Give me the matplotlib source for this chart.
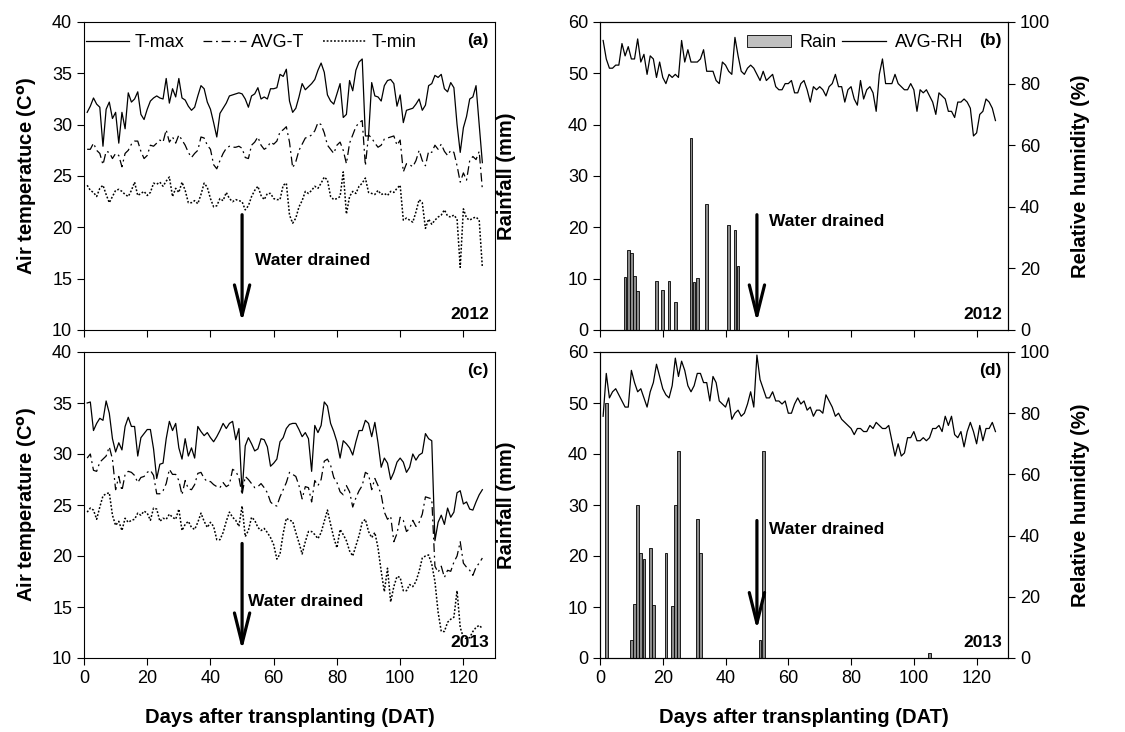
import numpy as np
import matplotlib
matplotlib.use('Agg')
import matplotlib.pyplot as plt
from matplotlib.patches import Patch
from matplotlib.lines import Line2D

plt.rcParams['font.family'] = ['Liberation Sans', 'DejaVu Sans']

# ---- data (2012) ----
tmax_2012 = [31.2, 31.8, 32.6, 32.0, 31.7, 27.9, 31.5, 32.2, 30.6, 31.2,
             28.2, 31.2, 29.6, 33.1, 32.2, 32.5, 33.2, 31.0, 30.5, 31.5,
             32.3, 32.6, 32.8, 32.6, 32.5, 34.5, 32.1, 33.5, 32.7, 34.5,
             32.6, 32.4, 31.8, 31.4, 31.7, 32.8, 33.8, 33.5, 32.2, 31.5,
             30.2, 28.8, 31.1, 31.6, 32.1, 32.8, 32.9, 33.0, 33.1, 33.0,
             32.5, 31.7, 32.8, 33.0, 33.6, 32.5, 32.7, 32.5, 33.5, 33.5,
             33.6, 34.9, 34.7, 35.4, 32.3, 31.2, 31.6, 32.7, 34.0, 33.4,
             33.7, 34.0, 34.4, 35.3, 36.0, 35.1, 32.9, 32.3, 32.0, 33.0,
             34.0, 30.7, 31.0, 34.3, 33.3, 35.3, 36.1, 36.4, 28.9, 28.9,
             34.1, 32.8, 32.7, 32.3, 33.8, 34.3, 34.4, 34.0, 31.8, 32.9,
             30.2, 31.4, 31.5, 31.6, 32.0, 32.5, 31.4, 31.9, 33.8, 34.0,
             34.8, 34.6, 34.9, 33.5, 33.2, 34.1, 33.6, 30.0, 27.3, 29.7,
             30.8, 32.5, 32.7, 33.8, 30.0, 26.3]
tavg_2012 = [27.6, 27.6, 28.2, 27.5, 27.2, 26.1, 27.4, 27.3, 26.7, 27.2,
             27.0, 25.9, 27.2, 27.5, 28.1, 28.4, 28.4, 27.4, 26.7, 27.0,
             28.0, 27.9, 28.2, 28.5, 28.3, 29.5, 28.3, 28.8, 28.2, 29.0,
             28.5, 28.0, 27.3, 26.8, 27.2, 27.5, 28.8, 28.7, 28.0, 27.6,
             26.1, 25.7, 26.5, 27.2, 27.7, 27.9, 27.8, 27.8, 27.9, 27.7,
             26.8, 26.7, 28.0, 28.3, 28.8, 28.0, 27.6, 27.8, 28.3, 28.1,
             28.4, 29.3, 29.5, 29.8, 28.3, 25.8, 26.4, 27.5, 28.1, 28.7,
             28.8, 29.0, 29.4, 30.2, 30.0, 29.2, 28.0, 27.6, 27.2, 28.0,
             28.3, 27.5, 26.2, 28.2, 29.0, 29.8, 30.2, 30.4, 26.0, 29.0,
             28.7, 28.2, 27.8, 28.0, 28.6, 28.7, 28.8, 28.9, 28.0, 28.5,
             25.4, 26.2, 26.1, 25.9, 26.5, 27.5, 26.5, 26.0, 27.4, 27.3,
             28.0, 27.6, 28.1, 27.4, 27.0, 27.5, 27.3, 26.0, 24.4, 25.3,
             24.6, 26.5, 26.9, 26.6, 27.4, 23.7]
tmin_2012 = [24.1, 23.6, 23.4, 23.0, 23.8, 24.1, 23.2, 22.4, 23.0, 23.6,
             23.7, 23.5, 23.2, 23.0, 23.6, 24.4, 23.1, 23.3, 23.5, 23.1,
             23.4, 24.3, 24.2, 24.4, 24.0, 24.5, 24.9, 23.0, 23.8, 23.4,
             24.4, 23.6, 22.4, 22.4, 22.6, 22.3, 23.2, 24.3, 23.9, 22.8,
             22.0, 22.1, 22.8, 22.6, 23.4, 22.8, 22.5, 22.7, 22.6, 22.5,
             21.7, 22.1, 23.0, 23.6, 24.0, 23.1, 22.7, 23.3, 23.3, 22.8,
             22.7, 22.7, 24.1, 24.3, 21.2, 20.4, 20.9, 22.0, 22.6, 23.5,
             23.3, 23.6, 24.0, 23.8, 24.3, 24.9, 24.6, 23.0, 22.7, 22.8,
             23.0, 25.4, 21.3, 23.0, 23.5, 23.3, 24.0, 24.3, 24.8, 23.4,
             23.3, 23.2, 23.6, 23.2, 23.3, 23.1, 23.5, 23.4, 23.8, 24.1,
             20.7, 20.9, 20.7, 20.5, 21.5, 22.7, 22.4, 19.9, 20.8, 20.3,
             20.7, 21.0, 21.2, 21.7, 21.1, 21.0, 21.2, 20.8, 16.1, 21.8,
             20.9, 20.7, 20.9, 21.0, 20.7, 16.1]
rh_2012 = [94, 88, 85, 85, 86, 86, 93, 89, 92, 88,
           88, 94.5, 87, 89.5, 83, 89, 88, 82, 87, 82,
           80, 83, 82, 83, 82, 94, 87, 91, 87, 87,
           87, 88, 91, 84, 84, 84, 81, 80, 87, 86,
           84, 83, 95, 89, 84, 83, 85, 86, 85, 83,
           81, 84, 81, 82, 83, 79, 78, 78, 80, 80,
           81, 77, 77, 80, 81, 78, 74, 79, 78, 79,
           78, 76, 79, 80, 83, 79, 79, 74, 78, 79,
           75, 73, 81, 75, 78, 79, 77, 71, 83, 88,
           80, 80, 80, 83, 80, 79, 78, 78, 80, 78,
           71, 78, 77, 78, 76, 74, 70, 77, 76, 75,
           71, 71, 69, 74, 74, 75, 74, 72, 63, 64,
           70, 71, 75, 74, 72, 68]
rain_days_2012 = [8, 9, 10, 11, 12, 18, 20, 22, 24, 29, 30, 31, 34, 41, 43, 44]
rain_2012 = [10.3, 15.5, 15.0, 10.5, 7.5, 9.5, 7.7, 9.5, 5.5, 37.5, 9.3, 10.2, 24.5, 20.5, 19.5, 12.5]

# ---- data (2013) ----
tmax_2013 = [35.0, 35.1, 32.3, 33.0, 33.5, 33.3, 35.2, 34.0, 31.5, 30.2,
             31.1, 30.4, 32.7, 33.6, 32.7, 32.7, 29.8, 31.6, 32.0, 32.4,
             32.4, 30.5, 27.6, 29.0, 29.1, 31.5, 33.2, 32.3, 33.0, 30.6,
             29.5, 31.5, 29.8, 30.6, 29.6, 32.7, 32.2, 31.8, 32.1, 31.6,
             31.2, 31.7, 32.3, 33.0, 32.5, 33.0, 33.2, 31.4, 32.5, 26.2,
             30.8, 31.6, 31.0, 30.3, 30.5, 31.5, 31.4, 30.7, 28.8, 29.1,
             29.5, 31.2, 31.6, 32.5, 32.9, 33.0, 33.0, 32.4, 31.7, 32.1,
             31.5, 28.3, 32.8, 32.1, 32.8, 35.1, 34.7, 33.0, 32.2, 31.2,
             29.6, 31.3, 31.0, 30.6, 29.9, 31.2, 32.3, 32.3, 33.3, 33.0,
             31.7, 33.1, 31.1, 28.7, 29.6, 29.1, 27.5, 28.2, 29.2, 29.6,
             29.2, 28.2, 28.7, 30.0, 29.4, 29.9, 30.1, 32.0, 31.5, 31.3,
             21.5, 23.3, 24.0, 23.1, 24.7, 23.8, 24.3, 26.2, 26.4, 25.1,
             25.3, 24.6, 24.5, 25.3, 26.0, 26.5]
tavg_2013 = [29.6, 30.0, 28.4, 28.3, 29.2, 29.5, 29.8, 30.7, 29.5, 26.5,
             27.8, 26.4, 28.0, 28.3, 28.2, 27.9, 27.2, 27.7, 27.8, 28.2,
             28.4, 27.9, 26.1, 26.1, 26.4, 27.1, 28.5, 28.0, 28.0, 27.4,
             26.0, 27.4, 26.6, 26.5, 27.0, 28.1, 28.2, 27.6, 27.3, 27.3,
             27.0, 26.8, 26.7, 27.2, 26.8, 27.0, 28.5, 28.3, 27.7, 26.0,
             27.8, 27.5, 27.1, 26.7, 26.8, 27.1, 26.7, 26.2, 25.3, 25.0,
             24.9, 25.8, 26.5, 27.2, 28.2, 28.0, 27.8, 26.9, 25.6, 26.8,
             26.7, 25.3, 27.4, 26.9, 27.5, 29.3, 29.5, 28.9, 27.7, 27.2,
             26.3, 26.0, 26.9, 26.3, 24.8, 25.7, 26.4, 26.9, 28.2, 28.0,
             26.5, 27.6, 26.9, 26.0, 24.3, 23.6, 23.9, 21.4, 22.2, 23.8,
             23.5, 22.4, 22.7, 23.5, 22.9, 23.3, 24.1, 25.8, 25.7, 25.6,
             19.0, 18.4, 19.0, 17.9, 18.6, 18.5, 19.4, 20.0, 21.4, 19.3,
             18.9, 18.6, 18.1, 18.9, 19.3, 19.8]
tmin_2013 = [24.3, 24.7, 24.5, 23.6, 24.8, 25.9, 26.1, 26.2, 24.0, 23.0,
             23.4, 22.5, 23.7, 23.3, 23.5, 23.6, 24.2, 24.0, 24.4, 24.2,
             23.5, 24.7, 24.6, 23.4, 23.7, 23.6, 24.1, 23.8, 23.6, 24.6,
             22.5, 23.1, 23.4, 22.8, 22.6, 23.3, 24.2, 23.4, 22.8, 23.3,
             22.9, 21.6, 21.6, 22.3, 23.4, 24.3, 23.8, 23.5, 22.9, 24.9,
             21.9, 22.5, 23.8, 23.5, 22.8, 22.5, 22.7, 22.3, 21.8, 21.1,
             19.7, 20.2, 22.2, 23.7, 23.5, 23.4, 22.3, 21.3, 20.2, 21.4,
             22.4, 22.4, 22.1, 21.7, 22.3, 23.4, 24.5, 23.1, 21.8, 20.8,
             22.6, 22.1, 21.5, 20.5, 20.0, 21.0, 22.0, 23.3, 23.6, 22.4,
             21.8, 22.3, 20.8, 18.5, 16.5, 18.8, 15.5, 17.0, 18.0, 17.9,
             16.6, 16.6, 17.2, 17.0, 17.5, 18.5, 19.8, 20.0, 20.1, 19.2,
             17.5, 14.5, 12.6, 12.6, 13.5, 13.8, 14.0, 16.6, 13.0, 12.0,
             11.9, 12.0, 12.6, 13.0, 13.2, 12.9]
rh_2013 = [79, 93, 85, 87, 88, 86, 84, 82, 82, 94,
           90, 87, 88, 85, 82, 87, 90, 96, 92, 88,
           86, 85, 89, 98, 92, 97, 94, 89, 87, 89,
           93, 93, 90, 90, 84, 92, 90, 84, 83, 82,
           85, 78, 80, 81, 79, 80, 83, 87, 82, 99,
           91, 88, 85, 85, 87, 84, 84, 83, 84, 80,
           80, 83, 85, 83, 84, 81, 82, 79, 81, 81,
           80, 86, 84, 82, 79, 80, 78, 77, 76, 75,
           73, 75, 75, 74, 74, 76, 75, 77, 76, 75,
           75, 76, 71, 66, 70, 66, 67, 72, 72, 74,
           71, 71, 72, 71, 72, 75, 75, 76, 74, 79,
           76, 79, 73, 72, 74, 69, 74, 77, 74, 70,
           76, 71, 75, 75, 77, 74]
rain_days_2013 = [2, 10, 11, 12, 13, 14, 16, 17, 21, 23, 24, 25, 31, 32, 51, 52, 105]
rain_2013 = [50.0, 3.5, 10.5, 30.0, 20.5, 19.5, 21.5, 10.3, 20.5, 10.2, 30.0, 40.5, 27.3, 20.5, 3.5, 40.5, 0.9]

days = np.arange(1, 127)

W, H = 1125, 732
fig = plt.figure(figsize=(W / 100, H / 100), dpi=100)

def box(l, t, r, b):
    return [l / W, 1 - b / H, (r - l) / W, (b - t) / H]

TICK = 13
LAB = 14.5
LEG = 13
SMALL = 12.5

ax_a = fig.add_axes(box(84, 22, 495, 330))
ax_c = fig.add_axes(box(84, 352, 495, 658))
ax_b = fig.add_axes(box(600, 22, 1008, 330))
ax_d = fig.add_axes(box(600, 352, 1008, 658))

dash_avg = (0, (7, 3, 1.5, 3))
dot_min = (0, (1.2, 1.2))
arrow_style = '->,head_length=2.2,head_width=0.55'


def temp_panel(ax, tmax, tavg, tmin, tag, year, ylabel, arrow_top, txt_xy, xlabels):
    ax.plot(days, tmax, color='black', lw=0.9, ls='-', label='T-max')
    ax.plot(days, tavg, color='black', lw=0.9, ls=dash_avg, label='AVG-T')
    ax.plot(days, tmin, color='black', lw=1.1, ls=dot_min, label='T-min')
    ax.set_xlim(0, 130)
    ax.set_ylim(10, 40)
    ax.set_yticks(np.arange(10, 41, 5))
    ax.set_xticks(np.arange(0, 121, 20))
    ax.tick_params(direction='out', labelsize=TICK, right=False, top=False, length=5)
    if not xlabels:
        ax.set_xticklabels([])
    ax.set_ylabel(ylabel, fontsize=LAB, fontweight='bold')
    ax.yaxis.set_label_coords(-0.11, 0.5)
    ax.text(0.985, 0.965, tag, transform=ax.transAxes, ha='right', va='top',
            fontsize=SMALL, fontweight='bold')
    ax.text(0.985, 0.025, year, transform=ax.transAxes, ha='right', va='bottom',
            fontsize=SMALL, fontweight='bold')
    ax.annotate('', xy=(50, 10.5), xytext=(50, arrow_top),
                arrowprops=dict(arrowstyle=arrow_style, lw=2.3, color='black'))
    ax.text(txt_xy[0], txt_xy[1], 'Water drained', fontsize=SMALL, fontweight='bold', va='center')


def rain_panel(ax, rdays, rain, rh, tag, year, arrow, txt_xy, xlabels):
    ax.bar(rdays, rain, width=0.85, color='#8c8c8c', edgecolor='black', lw=0.6, zorder=2)
    ax.set_xlim(0, 130)
    ax.set_ylim(0, 60)
    ax.set_yticks(np.arange(0, 61, 10))
    ax.set_xticks(np.arange(0, 121, 20))
    ax.tick_params(direction='out', labelsize=TICK, right=False, top=False, length=5)
    if not xlabels:
        ax.set_xticklabels([])
    ax.set_ylabel('Rainfall (mm)', fontsize=LAB, fontweight='bold')
    ax.yaxis.set_label_coords(-0.205, 0.5)
    ax2 = ax.twinx()
    ax2.plot(days, rh, color='black', lw=0.9)
    ax2.set_ylim(0, 100)
    ax2.set_yticks(np.arange(0, 101, 20))
    ax2.tick_params(direction='out', labelsize=TICK, length=5)
    ax2.set_ylabel('Relative humidity (%)', fontsize=LAB, fontweight='bold')
    ax2.yaxis.set_label_coords(1.155, 0.5)
    ax.text(0.985, 0.965, tag, transform=ax.transAxes, ha='right', va='top',
            fontsize=SMALL, fontweight='bold')
    ax.text(0.985, 0.025, year, transform=ax.transAxes, ha='right', va='bottom',
            fontsize=SMALL, fontweight='bold')
    ax.annotate('', xy=(50, arrow[1]), xytext=(50, arrow[0]),
                arrowprops=dict(arrowstyle=arrow_style, lw=2.3, color='black'),
                zorder=5)
    ax.text(txt_xy[0], txt_xy[1], 'Water drained', fontsize=SMALL, fontweight='bold', va='center')
    return ax2


temp_panel(ax_a, tmax_2012, tavg_2012, tmin_2012, '(a)', '2012',
           'Air temperatuce (C$^{\\mathbf{o}}$)', 21.5, (54, 16.8), False)
temp_panel(ax_c, tmax_2013, tavg_2013, tmin_2013, '(c)', '2013',
           'Air temperature (C$^{\\mathbf{o}}$)', 21.5, (52, 15.5), True)
ax_a.legend(loc='upper left', ncol=3, frameon=False, fontsize=LEG,
            handlelength=2.4, handletextpad=0.3, columnspacing=1.0,
            borderaxespad=0, borderpad=0, bbox_to_anchor=(0.005, 0.96))

rain_panel(ax_b, rain_days_2012, rain_2012, rh_2012, '(b)', '2012', (23, 1.0), (54, 21.2), False)
rain_panel(ax_d, rain_days_2013, rain_2013, rh_2013, '(d)', '2013', (27.5, 5.0), (54, 25.1), True)

handles = [Patch(facecolor='#c0c0c0', edgecolor='black', lw=0.6),
           Line2D([0], [0], color='black', lw=0.9)]
ax_b.legend(handles, ['Rain', 'AVG-RH'], loc='upper right', ncol=2, frameon=False,
            fontsize=LEG, handlelength=2.4, handletextpad=0.5, columnspacing=0.3,
            borderaxespad=0, borderpad=0, bbox_to_anchor=(0.89, 0.96))

for ax in (ax_c, ax_d):
    ax.set_xlabel('Days after transplanting (DAT)', fontsize=LAB, fontweight='bold')
    ax.xaxis.set_label_coords(0.5, -0.165)

fig.savefig('out.png', dpi=100)
